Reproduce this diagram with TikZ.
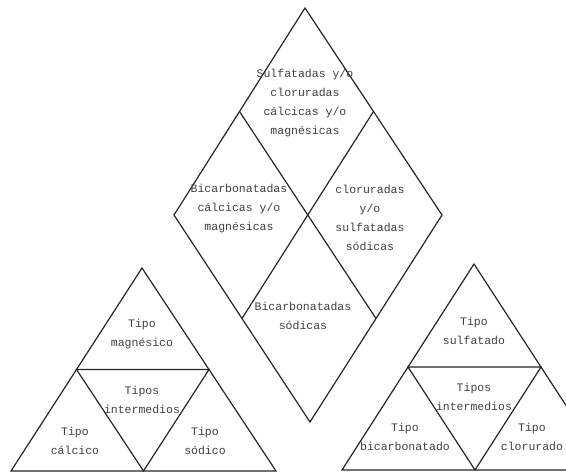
\documentclass[tikz,border=0pt]{standalone}
\usepackage{fontspec}
\setmonofont{Liberation Mono}
\usepackage{tikz}
\usetikzlibrary{calc}
\tikzstyle{borde} = [line width=1.2pt, draw=black!85, line join=miter]
\tikzstyle{zona} = [align=center, inner sep=0pt, text=black!75, font=\ttfamily\fontsize{11.5}{19}\selectfont]

\begin{document}
\begin{tikzpicture}[x=1pt, y=-1pt]
    \useasboundingbox (0,0) rectangle (566,473);
    \clip (0,0) rectangle (566,473);

    % rombo central
    \coordinate (top) at (305,8);
    \coordinate (izq) at (174,215);
    \coordinate (der) at (442,215);
    \coordinate (bot) at (310,422);
    \draw [borde] (top) -- (der) -- (bot) -- (izq) -- cycle;
    \draw [borde] ($(top)!0.5!(izq)$) -- ($(der)!0.5!(bot)$);
    \draw [borde] ($(top)!0.5!(der)$) -- ($(izq)!0.5!(bot)$);

    % triangulo de cationes
    \coordinate (catA) at (142,268);
    \coordinate (catL) at (11,471);
    \coordinate (catR) at (276,471);
    \draw [borde] (catA) -- (catR) -- (catL) -- cycle;
    \draw [borde] ($(catA)!0.5!(catL)$) -- ($(catA)!0.5!(catR)$) -- ($(catL)!0.5!(catR)$) -- cycle;

    % triangulo de aniones
    \coordinate (anA) at (474,264);
    \coordinate (anL) at (342,470);
    \coordinate (anR) at (608,470);
    \draw [borde] (anA) -- (anR) -- (anL) -- cycle;
    \draw [borde] ($(anA)!0.5!(anL)$) -- ($(anA)!0.5!(anR)$) -- ($(anL)!0.5!(anR)$) -- cycle;

    \node [zona] at (305,103) (sulf) {Sulfatadas y/o\\cloruradas\\cálcicas y/o\\magnésicas};
    \node [zona] at (239,209) (bicca) {Bicarbonatadas\\cálcicas y/o\\magnésicas};
    \node [zona] at (370,218) (clorna) {cloruradas\\y/o\\sulfatadas\\sódicas};
    \node [zona] at (303,316) (bicna) {Bicarbonatadas\\sódicas};

    \node [zona] at (142,334) (mg) {Tipo\\magnésico};
    \node [zona] at (142,400) (intc) {Tipos\\intermedios};
    \node [zona] at (75,441) (ca) {Tipo\\cálcico};
    \node [zona] at (205,441) (na) {Tipo\\sódico};

    \node [zona] at (474,331) (so4) {Tipo\\sulfatado};
    \node [zona] at (474,397) (inta) {Tipos\\intermedios};
    \node [zona] at (405,437) (hco3) {Tipo\\bicarbonatado};
    \node [zona] at (532,437) (cl) {Tipo\\clorurado};
\end{tikzpicture}
\end{document}
